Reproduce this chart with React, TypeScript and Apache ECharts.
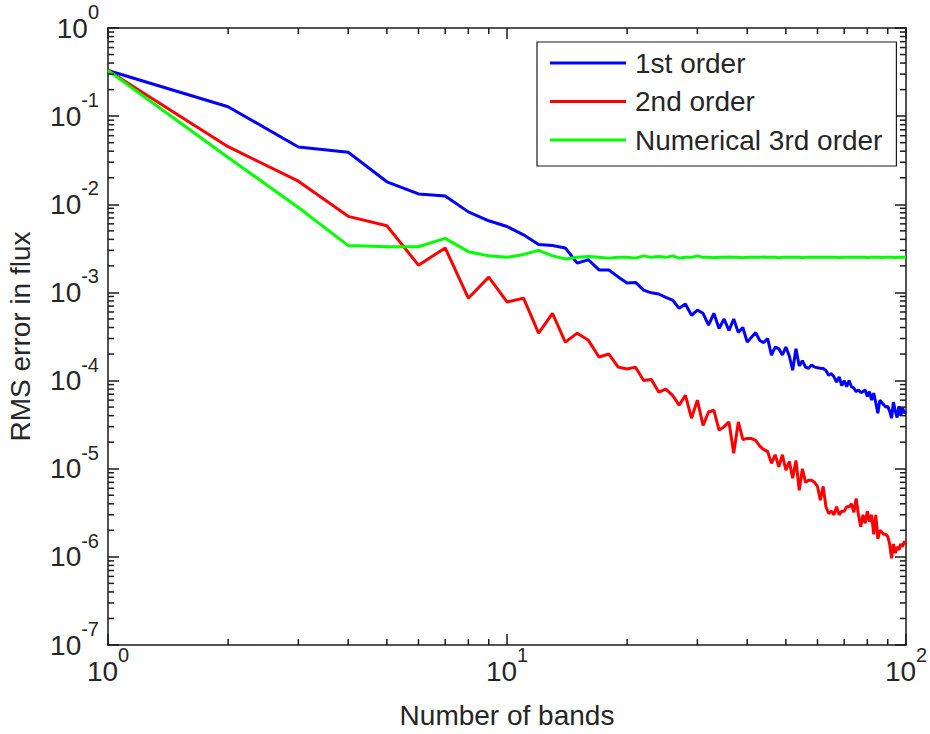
import React, { useEffect, useRef } from "react";
import * as echarts from "echarts";

// ---- data ----
const bands = [
  1, 2, 3, 4, 5, 6, 7, 8, 9, 10, 11, 12, 13, 14, 15, 16, 17, 18, 19, 20,
  21, 22, 23, 24, 25, 26, 27, 28, 29, 30, 31, 32, 33, 34, 35, 36, 37, 38, 39, 40,
  41, 42, 43, 44, 45, 46, 47, 48, 49, 50, 51, 52, 53, 54, 55, 56, 57, 58, 59, 60,
  61, 62, 63, 64, 65, 66, 67, 68, 69, 70, 71, 72, 73, 74, 75, 76, 77, 78, 79, 80,
  81, 82, 83, 84, 85, 86, 87, 88, 89, 90, 91, 92, 93, 94, 95, 96, 97, 98, 99, 100,
];

const firstOrder = [
  0.33, 0.128, 0.0446, 0.039, 0.018, 0.0131, 0.0124, 0.0082, 0.0065, 0.0056,
  0.0045, 0.0035, 0.0034, 0.0032, 0.00215, 0.00235, 0.0018, 0.0018, 0.0015, 0.00128,
  0.0013, 0.00106, 0.00099, 0.00096, 0.00088, 0.00082, 0.00066, 0.00074, 0.00055, 0.00063,
  0.00058, 0.000425, 0.00058, 0.00039, 0.0005, 0.00037, 0.0005, 0.00035, 0.0004, 0.000273,
  0.00031, 0.00035, 0.000285, 0.00027, 0.0003, 0.000194, 0.00024, 0.00023, 0.000195, 0.00024,
  0.00019, 0.000131, 0.00023, 0.000146, 0.000168, 0.000142, 0.000138, 0.00015, 0.000142, 0.00014,
  0.000138, 0.000137, 0.00013, 0.000115, 0.00012, 0.00011, 0.000096, 0.00011, 0.000088, 0.0001,
  0.000085, 0.0001, 0.000085, 0.000082, 0.000075, 0.000078, 0.000073, 0.000075, 0.000078, 0.000066,
  0.000075, 0.00006, 0.000072, 0.000056, 0.0000426, 0.00006, 0.000056, 0.000053, 0.00005, 0.000051,
  0.000045, 0.0000374, 0.000057, 0.000045, 0.000038, 0.000051, 0.00004, 0.000049, 0.000043, 0.000045,
];

const secondOrder = [
  0.33, 0.045, 0.0183, 0.0073, 0.0057, 0.00204, 0.0032, 0.00086, 0.00149, 0.00078,
  0.00086, 0.000345, 0.00058, 0.000273, 0.000345, 0.000286, 0.000185, 0.0002, 0.000142, 0.000135,
  0.000142, 0.0001, 0.000103, 0.000074, 0.00008, 0.000068, 0.0000526, 0.000068, 0.0000374, 0.00006,
  0.000031, 0.000044, 0.000046, 0.0000274, 0.00003, 0.000034, 0.000015, 0.000034, 0.0000215, 0.000022,
  0.000022, 0.000021, 0.000018, 0.0000165, 0.0000157, 0.0000115, 0.0000144, 0.0000105, 0.0000144, 0.0000096,
  0.0000121, 0.0000078, 0.0000124, 0.0000057, 0.00001, 0.000007, 0.0000074, 0.0000074, 0.000007, 0.0000063,
  0.0000044, 0.0000063, 0.0000037, 0.0000031, 0.0000033, 0.000003, 0.0000037, 0.000003, 0.0000033, 0.0000033,
  0.0000037, 0.0000037, 0.000004, 0.0000032, 0.0000046, 0.000003, 0.0000022, 0.000003, 0.0000024, 0.0000033,
  0.0000025, 0.000003, 0.0000018, 0.000003, 0.0000016, 0.000002, 0.0000019, 0.0000018, 0.0000018, 0.0000017,
  0.0000014, 0.00000096, 0.0000014, 0.0000011, 0.0000013, 0.0000012, 0.0000014, 0.0000013, 0.0000015, 0.0000014,
];

const numericalThird = [
  0.33, 0.034, 0.0092, 0.0034, 0.0033, 0.0033, 0.0041, 0.0029, 0.0026, 0.0025,
  0.0027, 0.003, 0.0026, 0.0024, 0.0025, 0.00255, 0.0025, 0.00245, 0.0025, 0.0025,
  0.00245, 0.0026, 0.0025, 0.00255, 0.0025, 0.0026, 0.00245, 0.0025, 0.0025, 0.0026,
  0.0025, 0.0025, 0.00248, 0.0025, 0.0025, 0.00252, 0.0025, 0.0025, 0.00248, 0.0025,
  0.0025, 0.0025, 0.0025, 0.00252, 0.0025, 0.0025, 0.0025, 0.00248, 0.0025, 0.0025,
  0.0025, 0.0025, 0.0025, 0.0025, 0.00248, 0.0025, 0.0025, 0.0025, 0.0025, 0.0025,
  0.0025, 0.0025, 0.0025, 0.0025, 0.0025, 0.0025, 0.0025, 0.00248, 0.0025, 0.0025,
  0.0025, 0.0025, 0.0025, 0.0025, 0.0025, 0.0025, 0.0025, 0.0025, 0.0025, 0.00248,
  0.0025, 0.0025, 0.0025, 0.0025, 0.0025, 0.0025, 0.00248, 0.0025, 0.0025, 0.0025,
  0.0025, 0.0025, 0.0025, 0.00248, 0.0025, 0.0025, 0.0025, 0.0025, 0.0025, 0.0025,
];

const seriesNames = ["1st order", "2nd order", "Numerical 3rd order"];
const seriesColors = ["#0000ff", "#ff0000", "#00ff00"];

const xMinorTicks = [2, 3, 4, 5, 6, 7, 8, 9, 20, 30, 40, 50, 60, 70, 80, 90];
const yMinorTicks = [
  2e-7, 3e-7, 4e-7, 5e-7, 6e-7, 7e-7, 8e-7, 9e-7,
  2e-6, 3e-6, 4e-6, 5e-6, 6e-6, 7e-6, 8e-6, 9e-6,
  2e-5, 3e-5, 4e-5, 5e-5, 6e-5, 7e-5, 8e-5, 9e-5,
  2e-4, 3e-4, 4e-4, 5e-4, 6e-4, 7e-4, 8e-4, 9e-4,
  2e-3, 3e-3, 4e-3, 5e-3, 6e-3, 7e-3, 8e-3, 9e-3,
  2e-2, 3e-2, 4e-2, 5e-2, 6e-2, 7e-2, 8e-2, 9e-2,
  0.2, 0.3, 0.4, 0.5, 0.6, 0.7, 0.8, 0.9,
];

const X_MIN = 1;
const X_MAX = 100;
const Y_MIN = 1e-7;
const Y_MAX = 1;

const FONT = "Liberation Sans, Arial, Helvetica, sans-serif";
const AXIS_COLOR = "#1a1a1a";
const TEXT_COLOR = "#262626";
const MAJOR_LEN = 11;
const MINOR_LEN = 6;

// "10" sits at the bottom of a 40px line, the exponent at its top
const richLabel = {
  b: { fontSize: 28, height: 28, lineHeight: 40, verticalAlign: "bottom", color: TEXT_COLOR, fontFamily: FONT },
  s: { fontSize: 20, height: 20, lineHeight: 20, verticalAlign: "top", color: TEXT_COLOR, fontFamily: FONT },
};

const powLabel = (v: number) => `{b|10}{s|${Math.round(Math.log10(v))}}`;

export default function App() {
  const ref = useRef<HTMLDivElement>(null);
  useEffect(() => {
    if (!ref.current) return;
    const chart = echarts.init(ref.current, null, { renderer: "svg" });

    const baseAxis = {
      axisLine: { show: true, onZero: false, lineStyle: { color: AXIS_COLOR, width: 1.5 } },
      axisTick: { show: true, inside: true, length: MAJOR_LEN, lineStyle: { color: AXIS_COLOR, width: 1.5 } },
      splitLine: { show: false },
      minorTick: { show: false },
    };

    const lineSeries = [firstOrder, secondOrder, numericalThird].map((vals, i) => ({
      name: seriesNames[i],
      type: "line",
      xAxisIndex: 0,
      yAxisIndex: 0,
      data: bands.map((b, j) => [b, vals[j]]),
      showSymbol: false,
      symbol: "none",
      lineStyle: { color: seriesColors[i], width: 3 },
      itemStyle: { color: seriesColors[i] },
      z: 3,
    }));

    const tickStyle = { stroke: AXIS_COLOR, lineWidth: 1.5 };

    const option: any = {
      animation: false,
      backgroundColor: "#ffffff",
      textStyle: { fontFamily: FONT },
      grid: { left: 108, right: 24, top: 28, bottom: 89, containLabel: false, outerBoundsMode: "none" },
      legend: {
        data: seriesNames,
        orient: "vertical",
        left: 537,
        top: 42,
        padding: [6, 14, 11, 13],
        itemGap: 8.5,
        itemWidth: 76,
        itemHeight: 3,
        icon: "rect",
        backgroundColor: "#ffffff",
        borderColor: AXIS_COLOR,
        borderWidth: 1.2,
        borderRadius: 0,
        textStyle: { fontSize: 28, lineHeight: 30, color: TEXT_COLOR, fontFamily: FONT, padding: [0, 0, 0, 4] },
      },
      xAxis: [
        {
          ...baseAxis,
          type: "log",
          logBase: 10,
          min: X_MIN,
          max: X_MAX,
          position: "bottom",
          name: "Number of bands",
          nameLocation: "middle",
          nameGap: 56,
          nameTextStyle: { fontSize: 28, color: TEXT_COLOR, fontFamily: FONT },
          axisLabel: { show: true, margin: 0, formatter: powLabel, rich: richLabel },
        },
        {
          ...baseAxis,
          type: "log",
          logBase: 10,
          min: X_MIN,
          max: X_MAX,
          position: "top",
          axisLabel: { show: false },
        },
      ],
      yAxis: [
        {
          ...baseAxis,
          type: "log",
          logBase: 10,
          min: Y_MIN,
          max: Y_MAX,
          position: "left",
          name: "RMS error in flux",
          nameLocation: "middle",
          nameGap: 74,
          nameTextStyle: { fontSize: 28, color: TEXT_COLOR, fontFamily: FONT },
          axisLabel: { show: true, margin: 9, padding: [0, 0, 12, 0], formatter: powLabel, rich: richLabel },
        },
        {
          ...baseAxis,
          type: "log",
          logBase: 10,
          min: Y_MIN,
          max: Y_MAX,
          position: "right",
          axisLabel: { show: false },
        },
      ],
      series: [
        ...lineSeries,
        {
          name: "xMinor",
          type: "custom",
          xAxisIndex: 0,
          yAxisIndex: 0,
          silent: true,
          clip: false,
          z: 5,
          data: xMinorTicks.map((v) => [v, Y_MIN]),
          encode: { x: 0, y: 1 },
          renderItem: (params: any, api: any) => {
            const v = api.value(0);
            const b = api.coord([v, Y_MIN]);
            const t = api.coord([v, Y_MAX]);
            return {
              type: "group",
              children: [
                { type: "line", shape: { x1: b[0], y1: b[1], x2: b[0], y2: b[1] - MINOR_LEN }, style: tickStyle },
                { type: "line", shape: { x1: t[0], y1: t[1], x2: t[0], y2: t[1] + MINOR_LEN }, style: tickStyle },
              ],
            };
          },
        },
        {
          name: "yMinor",
          type: "custom",
          xAxisIndex: 0,
          yAxisIndex: 0,
          silent: true,
          clip: false,
          z: 5,
          data: yMinorTicks.map((v) => [X_MIN, v]),
          encode: { x: 0, y: 1 },
          renderItem: (params: any, api: any) => {
            const v = api.value(1);
            const l = api.coord([X_MIN, v]);
            const r = api.coord([X_MAX, v]);
            return {
              type: "group",
              children: [
                { type: "line", shape: { x1: l[0], y1: l[1], x2: l[0] + MINOR_LEN, y2: l[1] }, style: tickStyle },
                { type: "line", shape: { x1: r[0], y1: r[1], x2: r[0] - MINOR_LEN, y2: r[1] }, style: tickStyle },
              ],
            };
          },
        },
      ],
    };

    chart.setOption(option);
    return () => chart.dispose();
  }, []);

  return (
    <div
      ref={ref}
      style={{ position: "fixed", left: 0, top: 0, width: 930, height: 734, background: "#fff" }}
    />
  );
}
